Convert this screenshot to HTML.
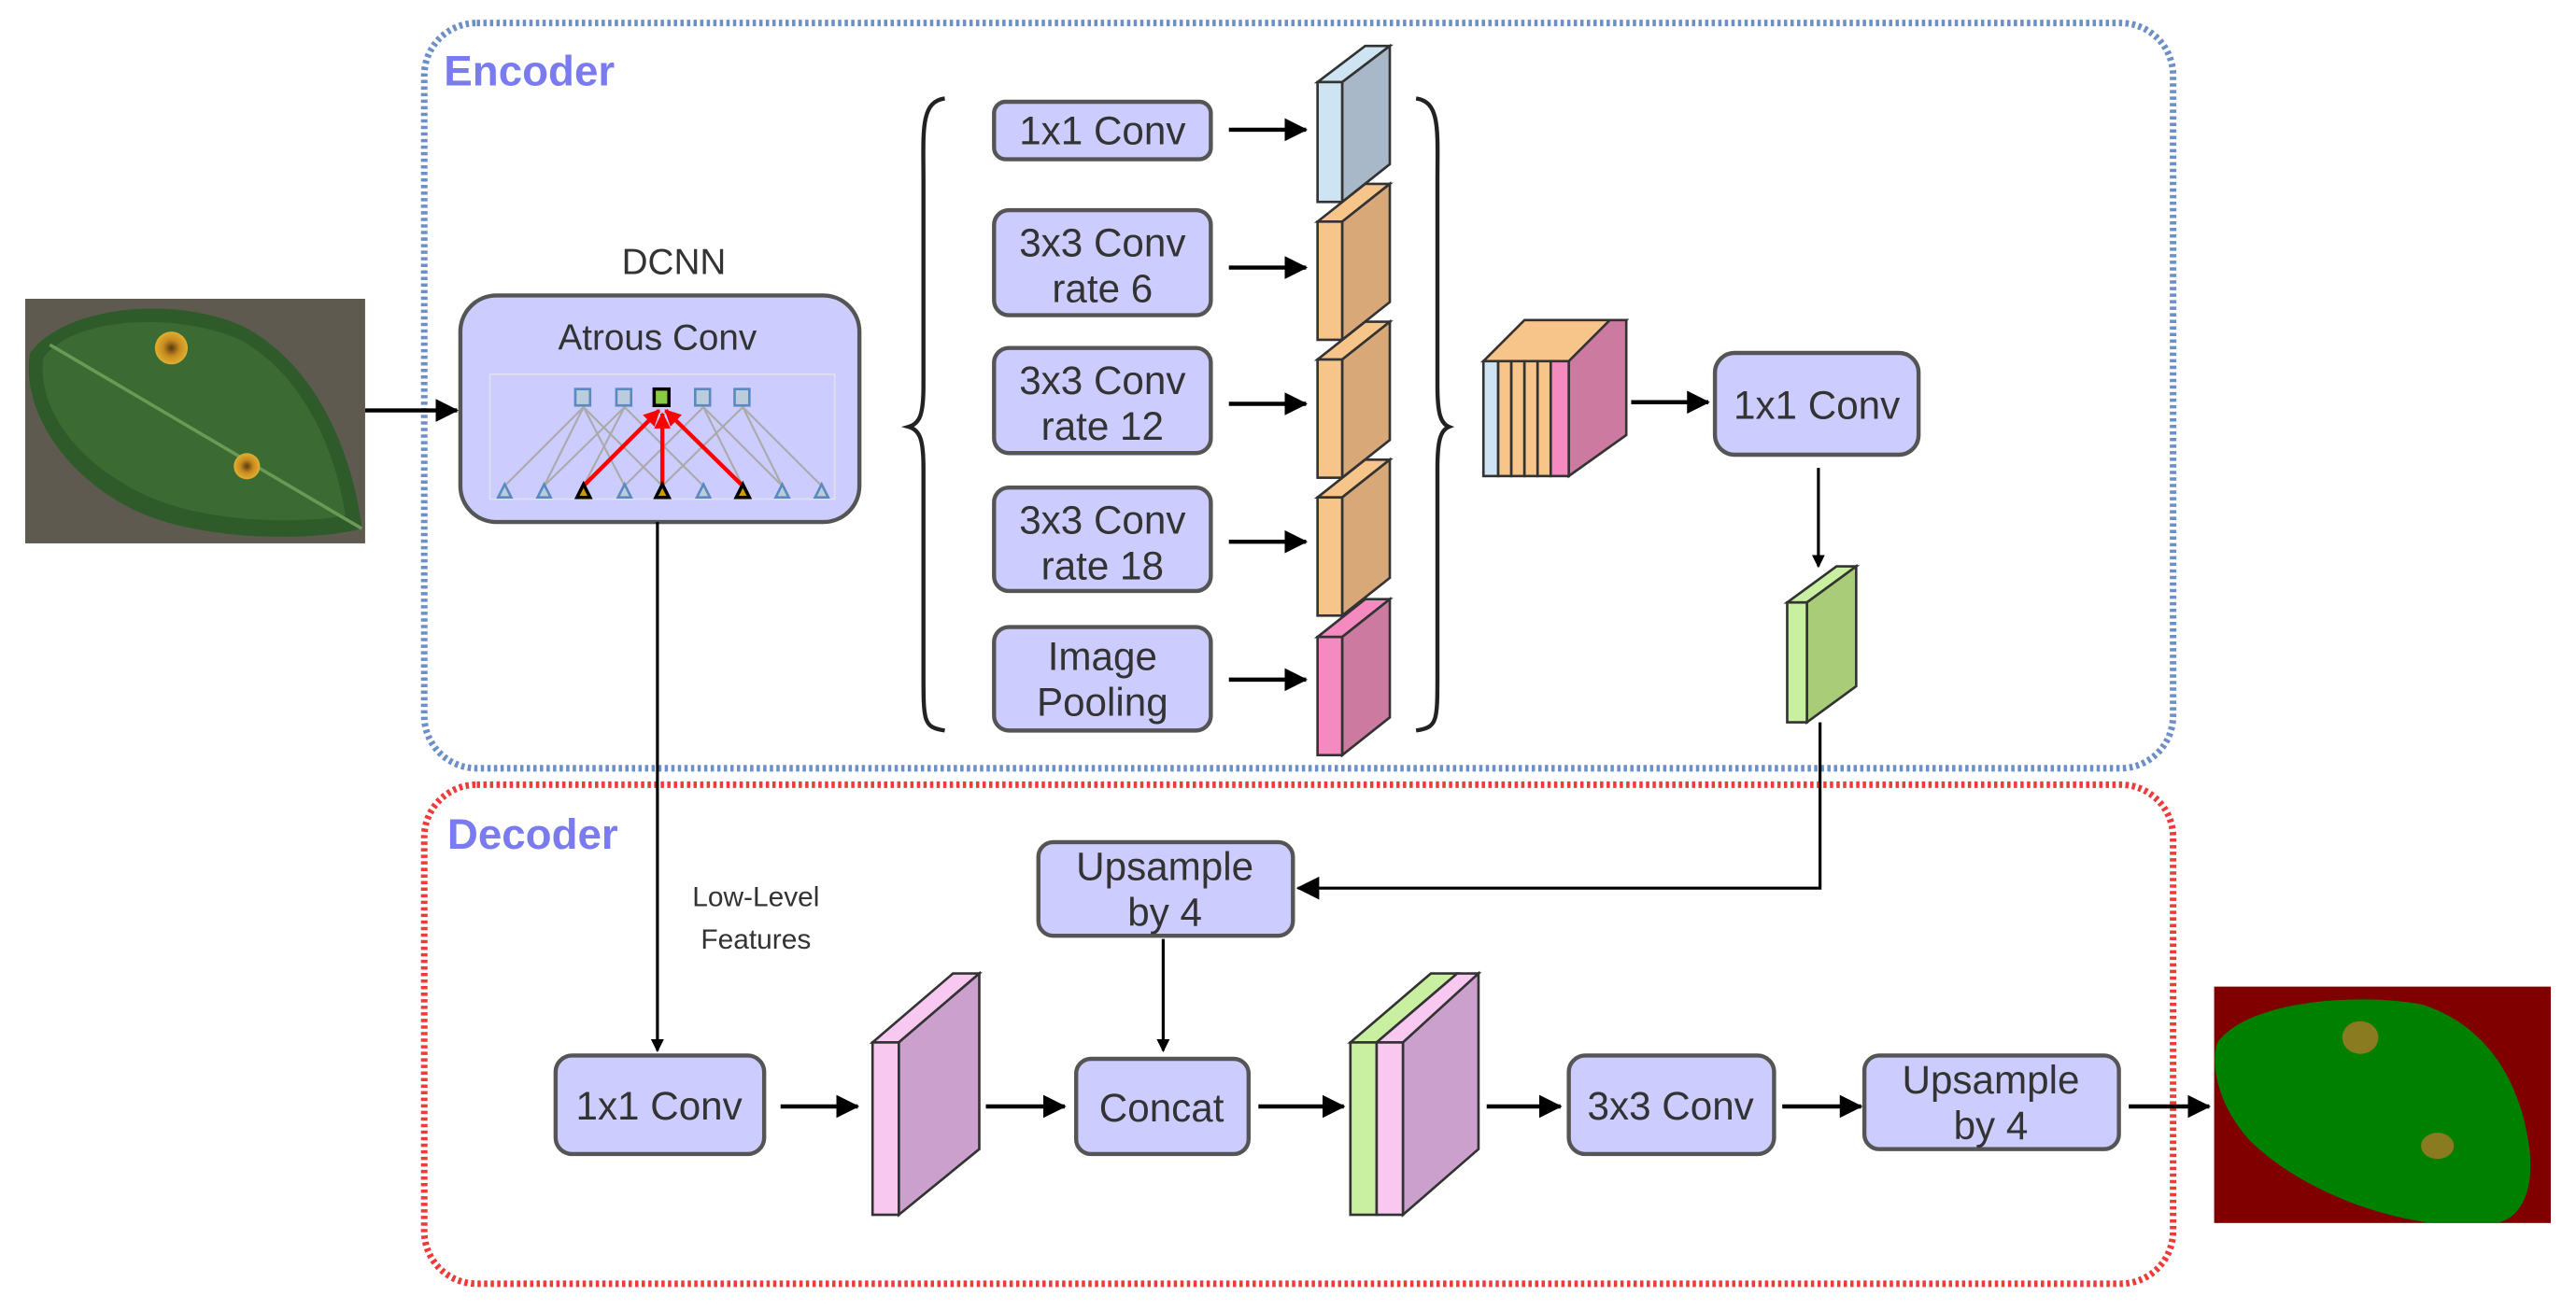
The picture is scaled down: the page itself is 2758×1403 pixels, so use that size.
<!DOCTYPE html>
<html><head><meta charset="utf-8"><style>
html,body{margin:0;padding:0;background:#fff;}
svg{display:block;}
text{font-family:"Liberation Sans",sans-serif;fill:#333;}
</style></head><body>
<svg width="2758" height="1403" viewBox="0 0 1568 798" xmlns="http://www.w3.org/2000/svg">
<defs>
<marker id="ah" markerWidth="8" markerHeight="8" refX="7" refY="4" orient="auto" markerUnits="userSpaceOnUse"><path d="M0,0 L8,4 L0,8 z" fill="#000"/></marker>
<marker id="ab" markerWidth="14" markerHeight="14" refX="13" refY="7" orient="auto" markerUnits="userSpaceOnUse"><path d="M0,0 L14,7 L0,14 z" fill="#000"/></marker>
<marker id="ar" markerWidth="10" markerHeight="10" refX="9" refY="5" orient="auto" markerUnits="userSpaceOnUse"><path d="M0,0 L10,5 L0,10 z" fill="#f00"/></marker>
<radialGradient id="spot"><stop offset="0" stop-color="#5a3a10"/><stop offset="0.5" stop-color="#c88a20"/><stop offset="1" stop-color="#e0b030"/></radialGradient>
</defs>

<!-- Leaf input -->
<rect x="15" y="182" width="207" height="149" fill="#5e5a50"/>
<path d="M18,215 C40,185 110,180 150,200 C195,225 215,280 220,322 C190,330 120,330 80,310 C40,290 12,250 18,215z" fill="#2f5a2a"/>
<path d="M26,218 C45,192 110,190 148,208 C188,232 205,280 210,314 C180,320 120,318 85,300 C48,282 22,250 26,218z" fill="#3b6b33"/>
<line x1="30" y1="210" x2="220" y2="322" stroke="#6a9a55" stroke-width="2"/>
<circle cx="104" cy="212" r="10" fill="url(#spot)"/>
<circle cx="150" cy="284" r="8" fill="url(#spot)"/>

<!-- Encoder box -->
<rect x="258" y="14" width="1065" height="454" rx="32" fill="none" stroke="#6b8fc6" stroke-width="4" stroke-dasharray="2 2"/>
<text x="270" y="52" font-size="26" font-weight="bold" style="fill:#7b7bf0">Encoder</text>
<!-- Decoder box -->
<rect x="258" y="478" width="1065" height="304" rx="32" fill="none" stroke="#f03a3a" stroke-width="4" stroke-dasharray="2 2"/>
<text x="272" y="517" font-size="26" font-weight="bold" style="fill:#7b7bf0">Decoder</text>

<g stroke="#000" stroke-width="2.5" fill="none">
<line x1="222" y1="250" x2="278" y2="250" marker-end="url(#ab)"/>
</g>

<!-- DCNN -->
<text x="410" y="167" font-size="22" text-anchor="middle">DCNN</text>
<rect x="280" y="180" width="243" height="138" rx="22" fill="#ccccff" stroke="#555" stroke-width="2.5"/>
<text x="400" y="213" font-size="22" text-anchor="middle">Atrous Conv</text>
<rect x="298" y="228" width="210" height="76" fill="none" stroke="#e0e0ee" stroke-width="1"/>
<g stroke="#aaa" stroke-width="1.2">
<line x1="355" y1="248" x2="307" y2="296"/><line x1="355" y1="248" x2="331" y2="296"/><line x1="355" y1="248" x2="380" y2="296"/><line x1="355" y1="248" x2="403" y2="296"/>
<line x1="380" y1="248" x2="331" y2="296"/><line x1="380" y1="248" x2="428" y2="296"/><line x1="380" y1="248" x2="355" y2="296"/>
<line x1="428" y1="248" x2="380" y2="296"/><line x1="428" y1="248" x2="476" y2="296"/><line x1="428" y1="248" x2="452" y2="296"/>
<line x1="452" y1="248" x2="403" y2="296"/><line x1="452" y1="248" x2="500" y2="296"/><line x1="452" y1="248" x2="476" y2="296"/>
</g>
<g stroke="#f00" stroke-width="2.5">
<line x1="355" y1="296" x2="401" y2="250" marker-end="url(#ar)"/>
<line x1="403" y1="296" x2="403" y2="252" marker-end="url(#ar)"/>
<line x1="452" y1="296" x2="405" y2="250" marker-end="url(#ar)"/>
</g>
<g fill="#bcd" stroke="#5a8ac0" stroke-width="1.5">
<rect x="350" y="237" width="9" height="10"/><rect x="375" y="237" width="9" height="10"/><rect x="423" y="237" width="9" height="10"/><rect x="447" y="237" width="9" height="10"/>
</g>
<rect x="398" y="237" width="9" height="10" fill="#8c4" stroke="#000" stroke-width="2"/>
<g fill="#bcd" stroke="#5a8ac0" stroke-width="1.5">
<path d="M307,295 l-4,8 h8z"/><path d="M331,295 l-4,8 h8z"/><path d="M380,295 l-4,8 h8z"/><path d="M428,295 l-4,8 h8z"/><path d="M476,295 l-4,8 h8z"/><path d="M500,295 l-4,8 h8z"/>
</g>
<g fill="#c90" stroke="#000" stroke-width="2">
<path d="M355,295 l-4,8 h8z"/><path d="M403,295 l-4,8 h8z"/><path d="M452,295 l-4,8 h8z"/>
</g>

<!-- Braces -->
<path d="M575,60 C560,62 562,80 562,110 L562,235 C562,252 560,258 553,260 C560,262 562,268 562,285 L562,410 C562,440 562,443 575,445" fill="none" stroke="#222" stroke-width="2.5"/>
<path d="M862,60 C877,62 875,80 875,110 L875,235 C875,252 877,258 882,260 C877,262 875,268 875,285 L875,410 C875,440 875,443 862,445" fill="none" stroke="#222" stroke-width="2.5"/>

<!-- ASPP boxes -->
<g fill="#ccccff" stroke="#555" stroke-width="2.5">
<rect x="605" y="62" width="132" height="35" rx="7"/>
<rect x="605" y="128" width="132" height="64" rx="9"/>
<rect x="605" y="212" width="132" height="64" rx="9"/>
<rect x="605" y="297" width="132" height="63" rx="9"/>
<rect x="605" y="382" width="132" height="63" rx="9"/>
</g>
<g font-size="24" text-anchor="middle">
<text x="671" y="88">1x1 Conv</text>
<text x="671" y="156">3x3 Conv</text><text x="671" y="184">rate 6</text>
<text x="671" y="240">3x3 Conv</text><text x="671" y="268">rate 12</text>
<text x="671" y="325">3x3 Conv</text><text x="671" y="353">rate 18</text>
<text x="671" y="408">Image</text><text x="671" y="436">Pooling</text>
</g>
<g stroke="#000" stroke-width="2.5">
<line x1="748" y1="79" x2="795" y2="79" marker-end="url(#ab)"/>
<line x1="748" y1="163" x2="795" y2="163" marker-end="url(#ab)"/>
<line x1="748" y1="246" x2="795" y2="246" marker-end="url(#ab)"/>
<line x1="748" y1="330" x2="795" y2="330" marker-end="url(#ab)"/>
<line x1="748" y1="414" x2="795" y2="414" marker-end="url(#ab)"/>
</g>

<!-- Feature slabs -->
<g stroke="#333" stroke-width="1.5">
<g><path d="M802,50 L831,28 L846,28 L817,50z" fill="#cfe4f2"/><path d="M817,50 L846,28 L846,100 L817,123z" fill="#a8b8c8"/><rect x="802" y="50" width="15" height="73" fill="#cfe4f2"/></g>
<g><path d="M802,135 L831,112 L846,112 L817,135z" fill="#f7c48a"/><path d="M817,135 L846,112 L846,184 L817,207z" fill="#d8a878"/><rect x="802" y="135" width="15" height="72" fill="#f7c48a"/></g>
<g><path d="M802,219 L831,196 L846,196 L817,219z" fill="#f7c48a"/><path d="M817,219 L846,196 L846,268 L817,291z" fill="#d8a878"/><rect x="802" y="219" width="15" height="72" fill="#f7c48a"/></g>
<g><path d="M802,303 L831,280 L846,280 L817,303z" fill="#f7c48a"/><path d="M817,303 L846,280 L846,352 L817,375z" fill="#d8a878"/><rect x="802" y="303" width="15" height="72" fill="#f7c48a"/></g>
<g><path d="M802,388 L831,365 L846,365 L817,388z" fill="#f58ac0"/><path d="M817,388 L846,365 L846,437 L817,460z" fill="#cc7aa0"/><rect x="802" y="388" width="15" height="72" fill="#f58ac0"/></g>
</g>

<!-- concat stack -->
<g stroke="#333" stroke-width="1.5">
<path d="M903,220 L928,195 L990,195 L965,220z" fill="#f7c48a"/>
<path d="M955,220 L980,195 L990,195 L990,265 L955,290z" fill="#cc7aa0"/>
<rect x="903" y="220" width="9" height="70" fill="#cfe4f2"/>
<rect x="912" y="220" width="8" height="70" fill="#f7c48a"/>
<rect x="920" y="220" width="8" height="70" fill="#f7c48a"/>
<rect x="928" y="220" width="8" height="70" fill="#f7c48a"/>
<rect x="936" y="220" width="8" height="70" fill="#f7c48a"/>
<rect x="944" y="220" width="11" height="70" fill="#f58ac0"/>
</g>
<g stroke="#000" stroke-width="2.5" fill="none">
<line x1="993" y1="245" x2="1040" y2="245" marker-end="url(#ab)"/>
</g>
<rect x="1044" y="215" width="124" height="62" rx="12" fill="#ccccff" stroke="#555" stroke-width="2.5"/>
<text x="1106" y="255" font-size="24" text-anchor="middle">1x1 Conv</text>
<g stroke="#000" stroke-width="1.8" fill="none">
<line x1="1107" y1="285" x2="1107" y2="345" marker-end="url(#ah)"/>
</g>
<g stroke="#333" stroke-width="1.5">
<path d="M1088,367 L1118,345 L1130,345 L1100,367z" fill="#c8f0a0"/>
<path d="M1100,367 L1130,345 L1130,418 L1100,440z" fill="#a8cc78"/>
<rect x="1088" y="367" width="12" height="73" fill="#c8f0a0"/>
</g>
<g stroke="#000" stroke-width="1.8" fill="none">
<polyline points="1108,440 1108,541 790,541" marker-end="url(#ab)"/>
<line x1="400" y1="318" x2="400" y2="640" marker-end="url(#ah)"/>
<line x1="708" y1="572" x2="708" y2="640" marker-end="url(#ah)"/>
</g>

<text x="460" y="552" font-size="17" text-anchor="middle">Low-Level</text>
<text x="460" y="578" font-size="17" text-anchor="middle">Features</text>

<!-- Decoder boxes -->
<g fill="#ccccff" stroke="#555" stroke-width="2.5">
<rect x="632" y="513" width="155" height="57" rx="9"/>
<rect x="338" y="643" width="127" height="60" rx="10"/>
<rect x="655" y="645" width="105" height="58" rx="9"/>
<rect x="955" y="643" width="125" height="60" rx="10"/>
<rect x="1135" y="643" width="155" height="57" rx="9"/>
</g>
<g font-size="24" text-anchor="middle">
<text x="709" y="536">Upsample</text><text x="709" y="564">by 4</text>
<text x="401" y="682">1x1 Conv</text>
<text x="707" y="683">Concat</text>
<text x="1017" y="682">3x3 Conv</text>
<text x="1212" y="666">Upsample</text><text x="1212" y="694">by 4</text>
</g>

<!-- decoder slabs -->
<g stroke="#333" stroke-width="1.5">
<path d="M531,635 L580,593 L596,593 L547,635z" fill="#f8c8f0"/>
<path d="M547,635 L596,593 L596,700 L547,740z" fill="#cca0cc"/>
<rect x="531" y="635" width="16" height="105" fill="#f8c8f0"/>

<path d="M822,635 L871,593 L887,593 L838,635z" fill="#c8f0a0"/>
<path d="M838,635 L887,593 L900,593 L854,635z" fill="#f8c8f0"/>
<path d="M854,635 L900,593 L900,700 L854,740z" fill="#cca0cc"/>
<rect x="822" y="635" width="16" height="105" fill="#c8f0a0"/>
<rect x="838" y="635" width="16" height="105" fill="#f8c8f0"/>
</g>
<g stroke="#000" stroke-width="2.5" fill="none">
<line x1="475" y1="674" x2="522" y2="674" marker-end="url(#ab)"/>
<line x1="600" y1="674" x2="648" y2="674" marker-end="url(#ab)"/>
<line x1="766" y1="674" x2="818" y2="674" marker-end="url(#ab)"/>
<line x1="905" y1="674" x2="950" y2="674" marker-end="url(#ab)"/>
<line x1="1085" y1="674" x2="1133" y2="674" marker-end="url(#ab)"/>
<line x1="1296" y1="674" x2="1345" y2="674" marker-end="url(#ab)"/>
</g>

<!-- Output -->
<rect x="1348" y="601" width="205" height="144" fill="#800000"/>
<path d="M1350,635 C1370,608 1440,605 1475,612 C1515,625 1535,660 1540,700 C1543,725 1535,742 1520,745 L1480,745 C1430,738 1390,715 1370,695 C1352,676 1345,650 1350,635z" fill="#008000"/>
<ellipse cx="1437" cy="632" rx="11" ry="10" fill="#8a7a20"/>
<ellipse cx="1484" cy="698" rx="10" ry="8" fill="#8a7a20"/>
</svg>
</body></html>
